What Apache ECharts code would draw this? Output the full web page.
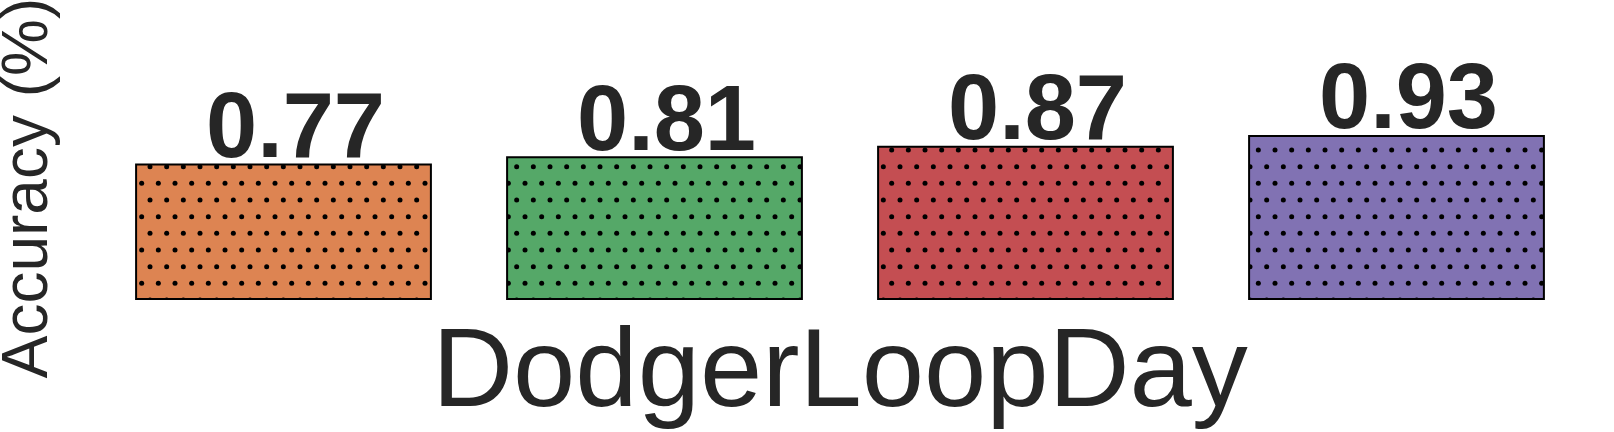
<!DOCTYPE html>
<html>
<head>
<meta charset="utf-8">
<script src="https://cdn.jsdelivr.net/npm/echarts@6/dist/echarts.min.js"></script>
<style>
  html, body { margin: 0; padding: 0; background: #fff; }
  #chart { width: 1614px; height: 432px; }
</style>
</head>
<body>
<div id="chart"></div>
<script>
// data
var categories = ["bar1", "bar2", "bar3", "bar4"];
var accuracy = [0.77, 0.81, 0.87, 0.93];
var barColors = ["#dd8452", "#55a868", "#c44e52", "#8172b3"];
var xName = "DodgerLoopDay";
var yName = "Accuracy (%)";
var yMax = 1.263;

// dotted hatch, like matplotlib's '.' hatch
function makeDots(color) {
  var c = document.createElement("canvas");
  c.width = 50;
  c.height = 100;
  var ctx = c.getContext("2d");
  ctx.fillStyle = color;
  ctx.fillRect(0, 0, 50, 100);
  ctx.fillStyle = "#000";
  var step = 50 / 3;
  for (var r = -1; r <= 6; r++) {
    var y = r * step;
    var shift = (r % 2 !== 0) ? step / 2 : 0;
    for (var k = -1; k <= 3; k++) {
      ctx.beginPath();
      ctx.arc(k * step + shift, y, 2.5, 0, Math.PI * 2);
      ctx.fill();
    }
  }
  return c;
}

var myChart = echarts.init(document.getElementById("chart"));

var barData = accuracy.map(function (v, i) {
  return {
    value: v,
    itemStyle: {
      color: { image: makeDots(barColors[i]), repeat: "repeat" }
    }
  };
});

var option = {
  animation: false,
  backgroundColor: "#fff",
  grid: { left: 98, right: 32, top: 76, bottom: 132, containLabel: false, outerBoundsMode: "none" },
  xAxis: {
    type: "category",
    data: categories,
    name: xName,
    nameLocation: "middle",
    nameGap: 19,
    nameTextStyle: { fontFamily: "Liberation Sans", fontSize: 112, color: "#262626" },
    axisLine: { show: false },
    axisTick: { show: false },
    axisLabel: { show: false }
  },
  yAxis: {
    type: "value",
    min: 0,
    max: yMax,
    name: yName,
    nameLocation: "middle",
    nameRotate: 90,
    nameGap: 37,
    nameTextStyle: { fontFamily: "Liberation Sans", fontSize: 64, color: "#262626" },
    axisLine: { show: false },
    axisTick: { show: false },
    axisLabel: { show: false },
    splitLine: { show: false }
  },
  series: [
    {
      name: "Accuracy",
      type: "bar",
      data: barData,
      barCategoryGap: "20%",
      itemStyle: { borderColor: "#000", borderWidth: 2 },
      label: {
        show: true,
        position: "top",
        distance: 0,
        offset: [12, 14],
        fontFamily: "Liberation Sans",
        fontWeight: "bold",
        fontSize: 92,
        color: "#262626",
        formatter: function (p) { return p.value.toFixed(2); }
      }
    }
  ]
};

myChart.setOption(option);
</script>
</body>
</html>
